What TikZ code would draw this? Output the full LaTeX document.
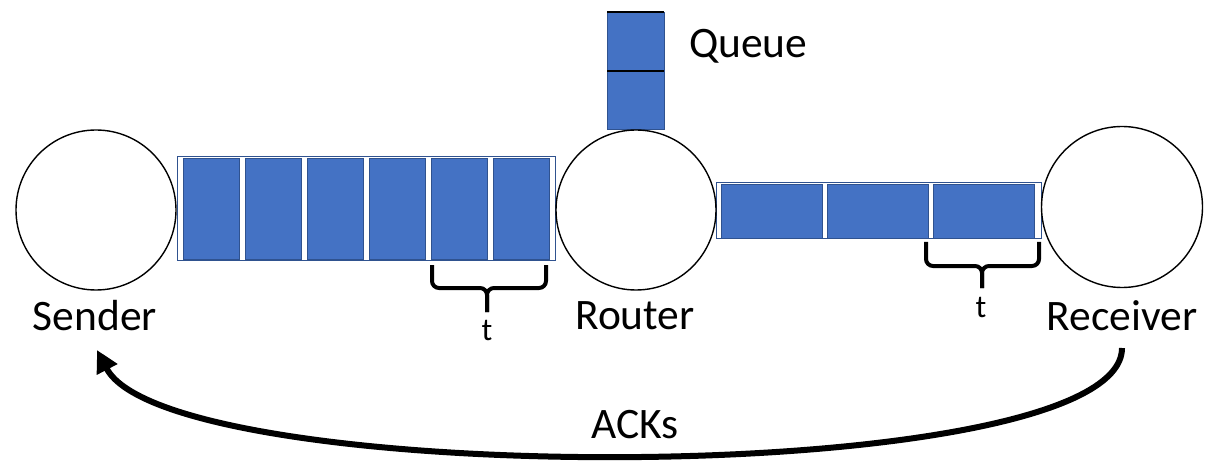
\documentclass[tikz,border=0pt]{standalone}
\usepackage{fontspec}
\setmainfont{Carlito}
\usetikzlibrary{arrows.meta}
\definecolor{pktblue}{HTML}{4472C4}
\definecolor{pktedge}{HTML}{2F528F}
\tikzset{
  host/.style={circle, draw=black, line width=1.4pt, fill=white, inner sep=0pt, minimum size=#1},
  lbl/.style={font=\fontsize{43.5}{43.5}\selectfont, anchor=base, inner sep=0pt},
  tlbl/.style={font=\fontsize{32}{32}\selectfont, anchor=base, inner sep=0pt},
  wire/.style={draw=pktedge, line width=1pt, fill=white},
  pkt/.style={draw=pktedge, line width=0.8pt, fill=pktblue},
  brace/.style={line width=4pt, rounded corners=7pt},
  ack/.style={line width=6pt, -{Triangle[length=22pt,width=22pt]}}
}
\begin{document}
\begin{tikzpicture}[x=1pt,y=-1pt]
\useasboundingbox (0,0) rectangle (1209,462);

% sender -> router link with six packets in flight
\draw[wire] (177,157) rectangle (555,260);
\foreach \i in {0,...,5}
  \draw[pkt] ({183+62*\i},158) rectangle ({239+62*\i},259);

% router -> receiver link with three packets
\draw[wire] (716,183) rectangle (1041,239);
\foreach \i in {0,...,2}
  \draw[pkt] ({721+106*\i},184) rectangle ({822+106*\i},238);

% router queue
\draw[pkt] (607,12) rectangle (664,71);
\draw[pkt] (607,71) rectangle (664,129);
\draw[line width=2pt] (607,12) -- (664,12);
\draw[line width=2pt] (607,71) -- (664,71);
\node[lbl, anchor=base west] (queue) at (689,58) {Queue};

% hosts
\node[host=160pt] (sender) at (96,210) {};
\node[host=160pt] (router) at (636,210) {};
\node[host=161pt] (receiver) at (1122,207) {};
\node[lbl] (senderlbl) at (95,330) {Sender};
\node[lbl] (routerlbl) at (635,329) {Router};
\node[lbl] (receiverlbl) at (1122,330) {Receiver};

% spacing braces
\draw[brace] (432,265) -- (432,288) -- (487,288) -- (487,312);
\draw[brace] (546,265) -- (546,288) -- (487,288) -- (487,312);
\node[tlbl] (t1) at (487,340) {t};
\draw[brace] (926,242) -- (926,266) -- (982,266) -- (982,288);
\draw[brace] (1039,242) -- (1039,266) -- (982,266) -- (982,288);
\node[tlbl] (t2) at (981,317) {t};

% acknowledgements flowing back
\coordinate (ackstart) at (1122,348);
\coordinate (ackend) at (97,350);
\draw[ack] (ackstart) .. controls (1122,490) and (170,490) .. (ackend);
\node[lbl] (acks) at (635,438) {ACKs};
\end{tikzpicture}
\end{document}
